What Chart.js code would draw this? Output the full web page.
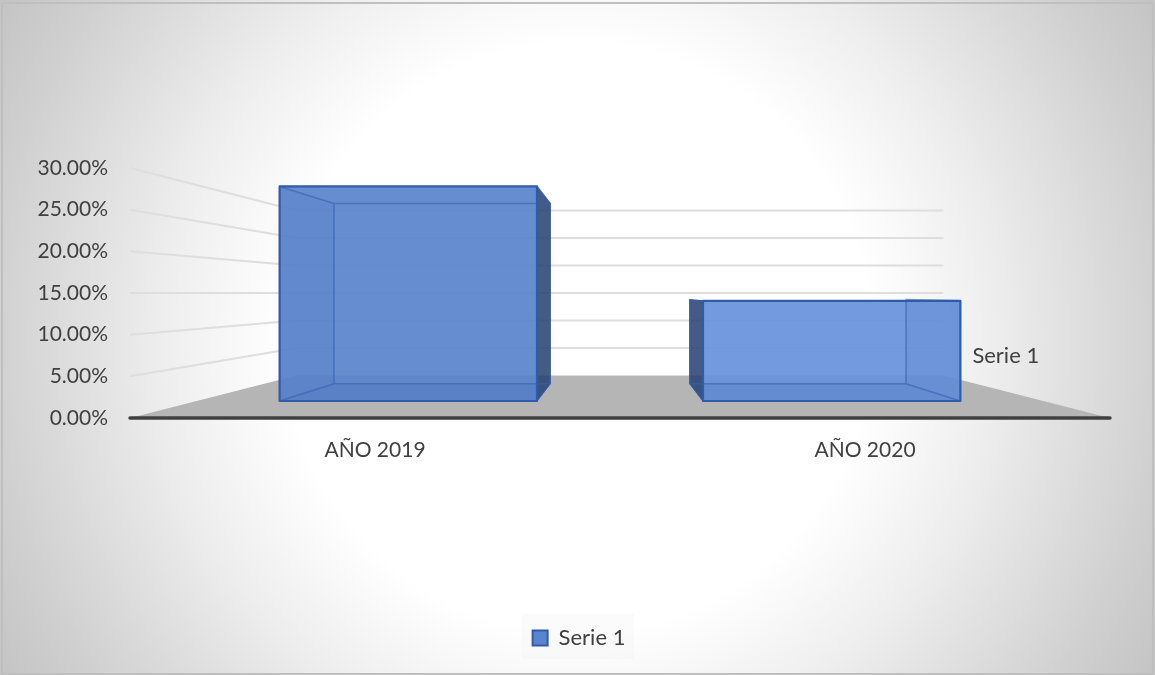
<!DOCTYPE html>
<html>
<head>
<meta charset="utf-8">
<style>
  html, body { margin: 0; padding: 0; background: #fff; }
  #wrap { position: relative; width: 1155px; height: 675px; }
</style>
<script src="https://cdn.jsdelivr.net/npm/chart.js@4"></script>
</head>
<body>
<div id="wrap"><canvas id="chart3d" width="1155" height="675"></canvas></div>
<script>
var categories = ['AÑO 2019', 'AÑO 2020'];
var seriesName = 'Serie 1';
var seriesValues = [29.8, 13.9];
var tickValues = [0, 5, 10, 15, 20, 25, 30];

// perspective depth, 1 = front of the walls
var WALL_BACK = 0.66, BAR_FRONT = 0.864, BAR_BACK = 0.726;

var barFills = ['#5a83cd', '#6791db'];

function project(chart, px, py, depth) {
  var area = chart.chartArea;
  var cx = (area.left + area.right) / 2;
  var cy = chart.scales.y.getPixelForValue(15);
  return { x: cx + (px - cx) * depth, y: cy + (py - cy) * depth };
}

function poly(ctx, pts, fill, stroke, lw) {
  ctx.beginPath();
  pts.forEach(function (p, i) {
    if (i === 0) ctx.moveTo(p.x, p.y); else ctx.lineTo(p.x, p.y);
  });
  ctx.closePath();
  if (fill) { ctx.fillStyle = fill; ctx.fill(); }
  if (stroke) { ctx.strokeStyle = stroke; ctx.lineWidth = lw; ctx.stroke(); }
}

var backdrop = {
  id: 'backdrop',
  // the legend sits off centre in the reference
  afterLayout: function (chart) {
    chart.legend.left += 20;
    chart.legend.right += 20;
  },
  beforeDraw: function (chart) {
    var ctx = chart.ctx, w = chart.width, h = chart.height;
    var g = ctx.createRadialGradient(w / 2, h / 2, 0, w / 2, h / 2, 668);
    g.addColorStop(0, '#ffffff');
    g.addColorStop(0.44, '#ffffff');
    g.addColorStop(0.62, '#eeeeee');
    g.addColorStop(0.88, '#d0d0d0');
    g.addColorStop(1, '#c4c4c4');
    ctx.save();
    ctx.fillStyle = g;
    ctx.fillRect(0, 0, w, h);
    ctx.strokeStyle = '#bfbfbf';
    ctx.lineWidth = 2;
    ctx.strokeRect(2, 3, w - 4, h - 4);
    var lg = chart.legend;
    ctx.fillStyle = 'rgba(238,238,238,0.25)';
    ctx.fillRect(lg.left + lg.width / 2 - 57, lg.top - 8, 112, 45);
    ctx.restore();
  }
};

var box3d = {
  id: 'box3d',
  // the floor, walls and boxes are all drawn here from the scales and bar elements
  beforeDatasetsDraw: function (chart) {
    var ctx = chart.ctx, area = chart.chartArea, yS = chart.scales.y;
    var y0 = yS.getPixelForValue(0);
    ctx.save();

    // floor
    poly(ctx, [
      { x: area.left, y: y0 }, { x: area.right, y: y0 },
      project(chart, area.right, y0, WALL_BACK), project(chart, area.left, y0, WALL_BACK)
    ], '#b5b5b5');

    // gridlines, side wall then back wall
    ctx.lineJoin = 'round';
    ctx.strokeStyle = '#dedede';
    ctx.lineWidth = 2;
    tickValues.forEach(function (v) {
      if (v === 0) return;
      var py = yS.getPixelForValue(v);
      var a = project(chart, area.left, py, WALL_BACK);
      var b = project(chart, area.right, py, WALL_BACK);
      ctx.beginPath();
      ctx.moveTo(area.left, py);
      ctx.lineTo(a.x, a.y);
      ctx.lineTo(b.x, b.y);
      ctx.stroke();
    });

    // front axis line
    ctx.strokeStyle = '#404040';
    ctx.lineWidth = 3.4;
    ctx.lineCap = 'round';
    ctx.beginPath();
    ctx.moveTo(area.left, y0);
    ctx.lineTo(area.right, y0);
    ctx.stroke();
    ctx.lineCap = 'butt';

    chart.getDatasetMeta(0).data.forEach(function (bar, i) {
      var l = bar.x - bar.width / 2, r = bar.x + bar.width / 2, t = bar.y, b = bar.base;
      var cx = (area.left + area.right) / 2;
      var fTL = project(chart, l, t, BAR_FRONT), fTR = project(chart, r, t, BAR_FRONT);
      var fBL = project(chart, l, b, BAR_FRONT), fBR = project(chart, r, b, BAR_FRONT);
      var kTL = project(chart, l, t, BAR_BACK), kTR = project(chart, r, t, BAR_BACK);
      var kBL = project(chart, l, b, BAR_BACK), kBR = project(chart, r, b, BAR_BACK);
      var onLeft = bar.x < cx;
      var edge = '#2f5ca8', inner = 'rgba(52,96,176,0.6)';

      // dark outer strip
      var strip = onLeft ? [fTR, kTR, kBR, fBR] : [fTL, kTL, kBL, fBL];
      poly(ctx, strip, 'rgba(38,64,112,0.86)', '#2f5ca8', 1.2);

      // front face, see-through
      ctx.globalAlpha = 0.92;
      poly(ctx, [fTL, fTR, fBR, fBL], barFills[i]);
      ctx.globalAlpha = 1;

      // inner side face and floor of the box
      var side = onLeft ? [fTL, kTL, kBL, fBL] : [fTR, kTR, kBR, fBR];
      poly(ctx, side, 'rgba(50,90,170,0.08)');
      poly(ctx, [fBL, fBR, kBR, kBL], 'rgba(50,90,170,0.14)');

      // inner edges
      ctx.strokeStyle = inner;
      ctx.lineWidth = 1.6;
      ctx.beginPath();
      if (onLeft) {
        ctx.moveTo(fTL.x, fTL.y); ctx.lineTo(kTL.x, kTL.y);
        ctx.lineTo(kTR.x, kTR.y);
        ctx.moveTo(kTL.x, kTL.y); ctx.lineTo(kBL.x, kBL.y);
        ctx.lineTo(kBR.x, kBR.y);
        ctx.moveTo(kBL.x, kBL.y); ctx.lineTo(fBL.x, fBL.y);
      } else {
        ctx.moveTo(fTR.x, fTR.y); ctx.lineTo(kTR.x, kTR.y);
        ctx.lineTo(kBR.x, kBR.y);
        ctx.lineTo(fBR.x, fBR.y);
        ctx.moveTo(kBR.x, kBR.y); ctx.lineTo(kBL.x, kBL.y);
      }
      ctx.stroke();

      // front outline
      poly(ctx, [fTL, fTR, fBR, fBL], null, edge, 2.2);
    });

    // depth axis label
    var rightBar = chart.getDatasetMeta(0).data[1];
    var lp = project(chart, rightBar.x + rightBar.width / 2, y0, BAR_FRONT);
    ctx.fillStyle = '#404040';
    ctx.font = '22px Lato';
    ctx.textBaseline = 'middle';
    ctx.textAlign = 'left';
    ctx.fillText(seriesName, lp.x + 12, lp.y - 45);

    ctx.restore();
    return false;
  }
};

var ctx = document.getElementById('chart3d').getContext('2d');

new Chart(ctx, {
  type: 'bar',
  data: {
    labels: categories,
    datasets: [{
      label: seriesName,
      data: seriesValues,
      backgroundColor: '#5b84cf',
      borderColor: '#2f5ca8',
      borderWidth: 2,
      categoryPercentage: 1,
      barPercentage: 0.608
    }]
  },
  options: {
    responsive: false,
    animation: false,
    layout: { padding: { left: 8, right: 45, top: 168, bottom: 16 } },
    scales: {
      x: {
        grid: { display: false },
        border: { display: false },
        afterFit: function (s) { s.height = 204; },
        ticks: { color: '#404040', font: { family: 'Lato', size: 21 }, padding: 12, maxRotation: 0 }
      },
      y: {
        min: 0,
        max: 30,
        afterFit: function (s) { s.width = 122; },
        grid: { display: false },
        border: { display: false },
        afterBuildTicks: function (s) { s.ticks = tickValues.map(function (v) { return { value: v }; }); },
        ticks: {
          color: '#404040',
          font: { family: 'Lato', size: 21 },
          padding: 14,
          callback: function (v) { return v.toFixed(2) + '%'; }
        }
      }
    },
    plugins: {
      legend: {
        display: true,
        position: 'bottom',
        labels: {
          color: '#404040',
          font: { family: 'Lato', size: 22 },
          boxWidth: 15,
          boxHeight: 15,
          padding: 5
        }
      },
      tooltip: { enabled: false }
    }
  },
  plugins: [backdrop, box3d]
});
</script>
</body>
</html>
